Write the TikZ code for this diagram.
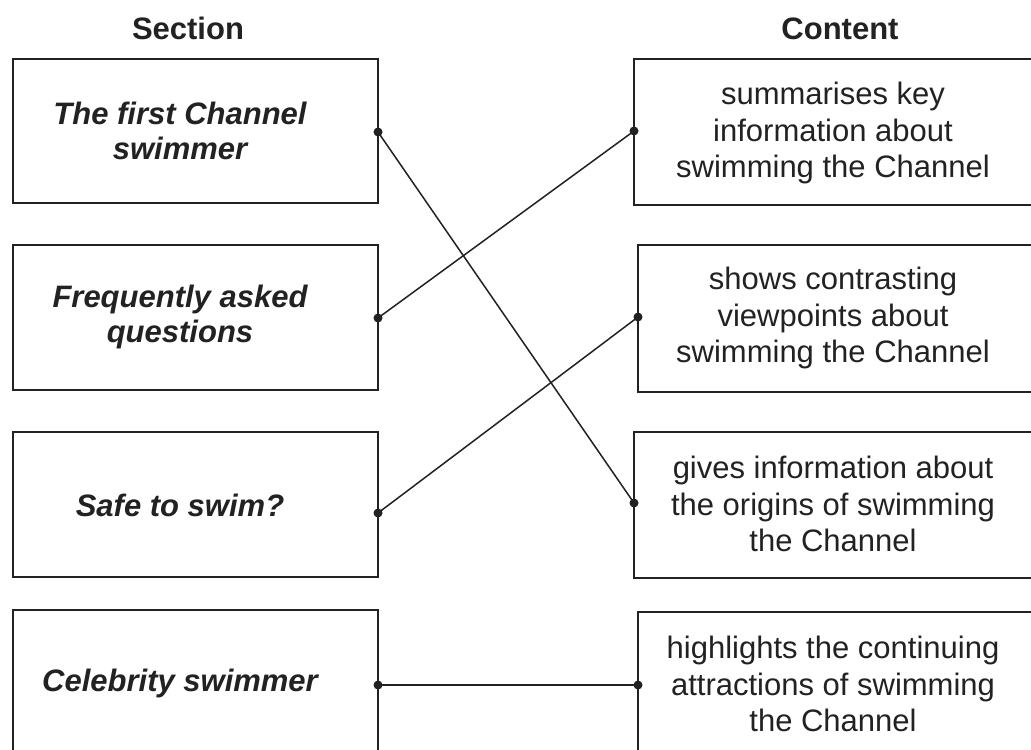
\documentclass[tikz,border=0pt]{standalone}
\usepackage{fontspec}
\setmainfont{Liberation Sans}
\definecolor{ink}{HTML}{222222}
\begin{document}
\begin{tikzpicture}[x=0.5pt,y=-0.5pt,
  boxline/.style={draw=ink,line width=1pt},
  conn/.style={draw=ink,line width=0.75pt},
  dotmark/.style={circle,fill=ink,inner sep=0pt,minimum size=4.5pt},
  head/.style={font=\fontsize{15.5}{18}\selectfont\bfseries,text=ink,anchor=base},
  ltext/.style={font=\fontsize{15.5}{17.5}\selectfont\bfseries\itshape,text=ink,align=center,inner sep=0pt},
  rtext/.style={font=\fontsize{15.5}{18.2}\selectfont,text=ink,align=center,inner sep=0pt}]
\useasboundingbox (0,0) rectangle (1031,749);
\clip (0,0) rectangle (1031,749);
\fill[white] (0,0) rectangle (1031,749);
% headers
\node[head] (hs) at (188,40) {Section};
\node[head] (hc) at (840,40) {Content};
% left boxes
\draw[boxline] (13,59) rectangle (378,203);
\draw[boxline] (13,245) rectangle (378,390);
\draw[boxline] (13,432) rectangle (378,577);
\draw[boxline] (13,610) rectangle (378,760);
% right boxes
\draw[boxline] (634,59) rectangle (1045,205);
\draw[boxline] (638,245) rectangle (1045,392);
\draw[boxline] (634,432) rectangle (1045,578);
\draw[boxline] (638,612) rectangle (1045,760);
% left texts
\node[ltext] (l1) at (180,131) {The first Channel\\swimmer};
\node[ltext] (l2) at (180,317) {Frequently asked\\questions};
\node[ltext] (l3) at (180,505) {Safe to swim?};
\node[ltext] (l4) at (180,683) {Celebrity swimmer};
% right texts
\node[rtext] (r1) at (833,133) {summarises key\\information about\\swimming the Channel};
\node[rtext] (r2) at (833,318) {shows contrasting\\viewpoints about\\swimming the Channel};
\node[rtext] (r3) at (833,504) {gives information about\\the origins of swimming\\the Channel};
\node[rtext] (r4) at (833,684) {highlights the continuing\\attractions of swimming\\the Channel};
% dots
\node[dotmark] (a1) at (378,132) {};
\node[dotmark] (a2) at (378,318) {};
\node[dotmark] (a3) at (378,513) {};
\node[dotmark] (a4) at (378,685) {};
\node[dotmark] (b1) at (634,131) {};
\node[dotmark] (b2) at (638,317) {};
\node[dotmark] (b3) at (634,503) {};
\node[dotmark] (b4) at (638,685) {};
% connectors
\draw[conn] (a1.center) -- (b3.center);
\draw[conn] (a2.center) -- (b1.center);
\draw[conn] (a3.center) -- (b2.center);
\draw[conn] (a4.center) -- (b4.center);
\end{tikzpicture}
\end{document}
